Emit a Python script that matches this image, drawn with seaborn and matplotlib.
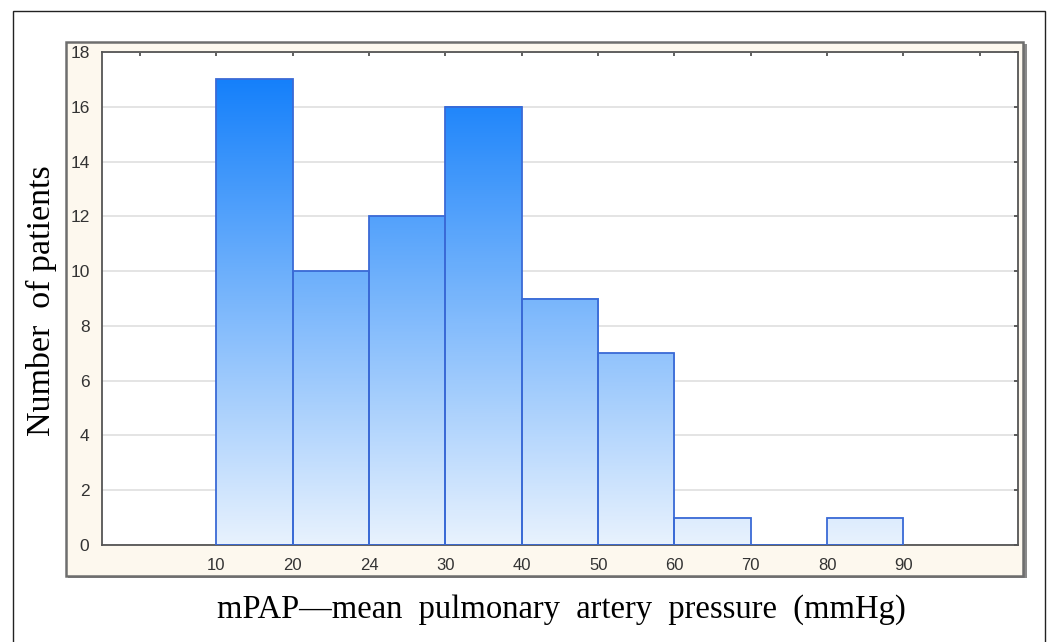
import numpy as np
import pandas as pd
import seaborn as sns
import matplotlib.pyplot as plt
from matplotlib.patches import Rectangle
from matplotlib.colors import LinearSegmentedColormap

# bins are drawn with equal width; labels mark the bin edges
edge_labels = ["10", "20", "24", "30", "40", "50", "60", "70", "80", "90"]
counts = [17, 10, 12, 16, 9, 7, 1, 0, 1]
y_ticks = [0, 2, 4, 6, 8, 10, 12, 14, 16, 18]

sns.set_style("white")
plt.rcParams['font.family'] = ['Liberation Sans', 'DejaVu Sans']

fig = plt.figure(figsize=(10.5, 6.42), dpi=100)

# outer frame of the figure
fig.patches.append(Rectangle((13 / 1050, -0.05), 1032 / 1050, 1.05 - 11 / 642,
                             transform=fig.transFigure, fill=False,
                             edgecolor='#222222', lw=1.0, zorder=-3))
# cream panel with grey shadowed border
fig.patches.append(Rectangle((68 / 1050, 1 - 578 / 642), 959 / 1050, 534 / 642,
                             transform=fig.transFigure, facecolor='#8a8a8a',
                             edgecolor='none', zorder=-2))
fig.patches.append(Rectangle((66 / 1050, 1 - 576 / 642), 957 / 1050, 534 / 642,
                             transform=fig.transFigure, facecolor='#FDF8EE',
                             edgecolor='#6e6e6e', lw=1.8, zorder=-1))

ax = fig.add_axes([102 / 1050, 1 - 545 / 642, 916 / 1050, 493 / 642])
ax.set_zorder(2)
ax.set_facecolor('white')

# positions: edge k (k=1..10) sits at x=k, extra blank ticks at 0 and 11
edges = [float(k) for k in range(1, len(edge_labels) + 1)]
df = pd.DataFrame({"pos": [e + 0.5 for e in edges[:-1]], "n": counts})
sns.histplot(data=df, x="pos", weights="n", bins=edges, ax=ax,
             fill=False, color='#3a6ad6', linewidth=1.3, zorder=3)

cmap = LinearSegmentedColormap.from_list('blu', ['#E8F2FE', '#1580FA'])
vmax = max(counts)
for p in ax.patches:
    h = p.get_height()
    if h <= 0:
        continue
    x0 = p.get_x()
    w = p.get_width()
    grad = np.linspace(0, h, 256).reshape(-1, 1)
    ax.imshow(grad, extent=[x0, x0 + w, 0, h], origin='lower', aspect='auto',
              cmap=cmap, vmin=0, vmax=vmax, zorder=2, interpolation='bilinear')

ax.set_xlim(-0.5, 11.5)
ax.set_ylim(0, 18)
ax.set_xticks(np.arange(0, 12))
ax.set_xticklabels([""] + edge_labels + [""])
ax.set_yticks(y_ticks)
ax.yaxis.grid(True, color='#e4e4e4', lw=1.4, zorder=0)
ax.set_axisbelow(True)

ax.tick_params(axis='both', which='both', direction='in', length=3, width=1.2,
               color='#444444', top=True, right=True, labelcolor='#333333')
ax.tick_params(axis='x', pad=9, labelsize=12)
ax.tick_params(axis='y', pad=9, labelsize=12.5)
for s in ax.spines.values():
    s.set_color('#555555')
    s.set_linewidth(1.3)
ax.set_xlabel("")
ax.set_ylabel("")

fig.text(41 / 1050, 1 - 301 / 642, "Number  of patients", rotation=90,
         ha='center', va='center', fontsize=24.5, color='black',
         family='Liberation Serif')
fig.text(561 / 1050, 1 - 610 / 642,
         "mPAP\u2014mean  pulmonary  artery  pressure  (mmHg)",
         ha='center', va='center', fontsize=23.5, color='black',
         family='Liberation Serif')

fig.savefig("out.png", dpi=100)
